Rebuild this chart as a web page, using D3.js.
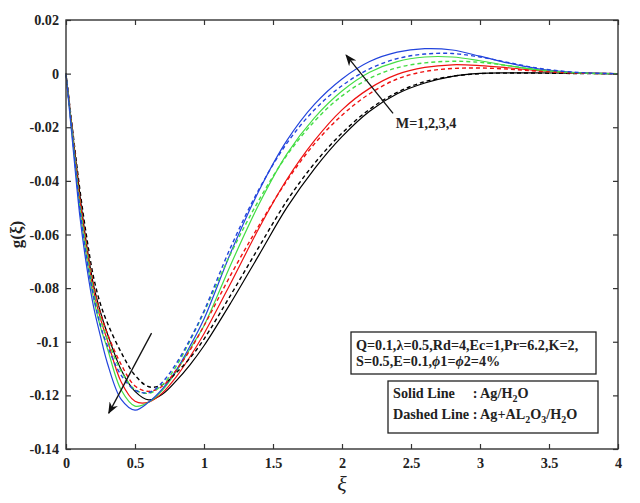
<!DOCTYPE html>
<html>
<head>
<meta charset="utf-8">
<script src="https://cdn.jsdelivr.net/npm/d3@7"></script>
<style>
  body { margin: 0; background: #fff; }
  text { font-family: "Liberation Serif", "DejaVu Serif", serif; fill: #222; }
</style>
</head>
<body>
<svg id="chart"></svg>
<script>
// xi grid shared by all curves
const xiValues = [0, 0.05, 0.1, 0.15, 0.2, 0.25, 0.3, 0.4, 0.5, 0.6, 0.7, 0.8, 0.9, 1.0,
  1.2, 1.4, 1.6, 1.8, 2.0, 2.2, 2.4, 2.6, 2.8, 3.0, 3.2, 3.4, 3.6, 3.8, 4.0];

// solid lines: Ag/H2O
const agM1 = [0, -0.023, -0.045, -0.064, -0.079, -0.089, -0.097, -0.1105, -0.1185, -0.1217, -0.1195, -0.1145, -0.1085, -0.1015,
  -0.085, -0.0675, -0.050, -0.0355, -0.0235, -0.014, -0.0075, -0.0035, -0.001, 0.0001, 0.0003, 0.0003, 0.0002, 0.0001, 0];
const agM2 = [0, -0.024, -0.047, -0.066, -0.081, -0.0915, -0.0995, -0.115, -0.1222, -0.1225, -0.119, -0.113, -0.1055, -0.097,
  -0.0775, -0.0575, -0.0395, -0.025, -0.0135, -0.0055, -0.0003, 0.0023, 0.0033, 0.003, 0.0022, 0.0012, 0.0005, 0.0001, 0];
const agM3 = [0, -0.025, -0.05, -0.069, -0.084, -0.0945, -0.1025, -0.118, -0.124, -0.1225, -0.118, -0.111, -0.1025, -0.094,
  -0.0705, -0.0485, -0.030, -0.0165, -0.0065, 0.0005, 0.0045, 0.0062, 0.0062, 0.0048, 0.003, 0.0015, 0.0006, 0.0001, 0];
const agM4 = [0, -0.027, -0.053, -0.072, -0.087, -0.098, -0.108, -0.1215, -0.1255, -0.1225, -0.1175, -0.1105, -0.1015, -0.0915,
  -0.066, -0.0435, -0.025, -0.0115, -0.002, 0.0045, 0.008, 0.0093, 0.0088, 0.0065, 0.004, 0.002, 0.0008, 0.0002, 0];

// dashed lines: Ag+Al2O3/H2O
const hybM1 = [0, -0.022, -0.043, -0.061, -0.076, -0.086, -0.093, -0.104, -0.1125, -0.1168, -0.116, -0.1115, -0.106, -0.099,
  -0.082, -0.0645, -0.0475, -0.0335, -0.0222, -0.0133, -0.007, -0.003, -0.001, 0, 0.0002, 0.0002, 0.0001, 0, 0];
const hybM2 = [0, -0.023, -0.046, -0.064, -0.079, -0.0895, -0.097, -0.1085, -0.1165, -0.1185, -0.1165, -0.1105, -0.103, -0.094,
  -0.0745, -0.0565, -0.040, -0.0262, -0.0155, -0.0075, -0.002, 0.0008, 0.0019, 0.0021, 0.0017, 0.001, 0.0004, 0.0001, 0];
const hybM3 = [0, -0.024, -0.048, -0.066, -0.081, -0.0915, -0.099, -0.111, -0.1178, -0.1192, -0.116, -0.109, -0.0995, -0.089,
  -0.0665, -0.047, -0.0305, -0.0178, -0.0083, -0.0018, 0.0022, 0.004, 0.0046, 0.0042, 0.003, 0.0016, 0.0006, 0.0001, 0];
const hybM4 = [0, -0.025, -0.05, -0.069, -0.083, -0.094, -0.1015, -0.1125, -0.118, -0.119, -0.115, -0.108, -0.099, -0.0885,
  -0.064, -0.043, -0.026, -0.0135, -0.0045, 0.0018, 0.0056, 0.0073, 0.0075, 0.0062, 0.0042, 0.0022, 0.0009, 0.0002, 0];

const xTicks = [0, 0.5, 1, 1.5, 2, 2.5, 3, 3.5, 4];
const yTicks = [0.02, 0, -0.02, -0.04, -0.06, -0.08, -0.1, -0.12, -0.14];

const width = 640, height = 503;
const margin = { top: 20, right: 22, bottom: 54, left: 66 };
const labelSize = 14.2;

const svg = d3.select("#chart").attr("width", width).attr("height", height);

const x = d3.scaleLinear().domain([0, 4]).range([margin.left, width - margin.right]);
const y = d3.scaleLinear().domain([-0.14, 0.02]).range([height - margin.bottom, margin.top]);

const curves = [
  { values: agM1, color: "#000000", dashed: false },
  { values: agM2, color: "#ee1111", dashed: false },
  { values: agM3, color: "#44dd44", dashed: false },
  { values: agM4, color: "#2244dd", dashed: false },
  { values: hybM1, color: "#000000", dashed: true },
  { values: hybM2, color: "#ee1111", dashed: true },
  { values: hybM3, color: "#44dd44", dashed: true },
  { values: hybM4, color: "#2244dd", dashed: true }
];

const line = d3.line()
  .x((d, i) => x(xiValues[i]))
  .y(d => y(d))
  .curve(d3.curveCatmullRom.alpha(0.5));

svg.append("g").selectAll("path").data(curves).enter().append("path")
  .attr("d", d => line(d.values))
  .attr("fill", "none")
  .attr("stroke", d => d.color)
  .attr("stroke-width", d => d.dashed ? 1.4 : 1.2)
  .attr("stroke-dasharray", d => d.dashed ? "4,3" : null);

// axes with inward ticks on all four sides
const fmt = d => d === 0 ? "0" : String(d);
const axisStyle = g => {
  g.select(".domain").remove();
  g.selectAll(".tick line").attr("stroke", "#333").attr("stroke-width", 1.2);
  g.selectAll(".tick text").attr("font-family", "Liberation Serif, serif")
    .attr("font-weight", "bold").attr("font-size", labelSize).attr("fill", "#222");
};

svg.append("g").attr("transform", `translate(0,${height - margin.bottom})`)
  .call(d3.axisBottom(x).tickValues(xTicks).tickFormat(fmt).tickSize(-5).tickPadding(9))
  .call(axisStyle);
svg.append("g").attr("transform", `translate(0,${margin.top})`)
  .call(d3.axisTop(x).tickValues(xTicks).tickFormat("").tickSize(-5))
  .call(axisStyle);
svg.append("g").attr("transform", `translate(${margin.left},0)`)
  .call(d3.axisLeft(y).tickValues(yTicks).tickFormat(fmt).tickSize(-5).tickPadding(7))
  .call(axisStyle);
svg.append("g").attr("transform", `translate(${width - margin.right},0)`)
  .call(d3.axisRight(y).tickValues(yTicks).tickFormat("").tickSize(-5))
  .call(axisStyle);

svg.append("rect")
  .attr("x", margin.left).attr("y", margin.top)
  .attr("width", width - margin.left - margin.right)
  .attr("height", height - margin.bottom - margin.top)
  .attr("fill", "none").attr("stroke", "#333").attr("stroke-width", 1.4);

// axis titles
svg.append("text")
  .attr("x", (margin.left + width - margin.right) / 2).attr("y", 491)
  .attr("text-anchor", "middle").attr("font-size", 22).attr("font-style", "italic")
  .text("ξ");
svg.append("text")
  .attr("transform", `translate(22,${(margin.top + height - margin.bottom) / 2}) rotate(-90)`)
  .attr("text-anchor", "middle").attr("font-size", 17).attr("font-weight", "bold")
  .text("g(ξ)");

// arrows
svg.append("defs").append("marker")
  .attr("id", "head").attr("viewBox", "0 0 10 10").attr("refX", 9).attr("refY", 5)
  .attr("markerWidth", 9).attr("markerHeight", 9).attr("orient", "auto")
  .append("path").attr("d", "M0,1 L10,5 L0,9 L3,5 Z").attr("fill", "#111");

const arrows = [
  { from: [2.37, -0.0148], to: [2.03, 0.0069] },
  { from: [0.62, -0.0968], to: [0.31, -0.1266] }
];
svg.append("g").selectAll("line").data(arrows).enter().append("line")
  .attr("x1", d => x(d.from[0])).attr("y1", d => y(d.from[1]))
  .attr("x2", d => x(d.to[0])).attr("y2", d => y(d.to[1]))
  .attr("stroke", "#111").attr("stroke-width", 1.3)
  .attr("marker-end", "url(#head)");

svg.append("text").attr("x", x(2.39)).attr("y", y(-0.0203))
  .attr("font-size", labelSize).attr("font-weight", "bold").text("M=1,2,3,4");

// parameter box
const box = svg.append("g").attr("font-weight", "bold").attr("font-size", labelSize);
box.append("rect").attr("x", 351).attr("y", 332).attr("width", 245).attr("height", 42)
  .attr("fill", "#fff").attr("stroke", "#222").attr("stroke-width", 1.3);
box.append("text").attr("x", 356).attr("y", 350)
  .html('Q=0.1,<tspan>λ</tspan>=0.5,Rd=4,Ec=1,Pr=6.2,K=2,');
box.append("text").attr("x", 356).attr("y", 366)
  .html('S=0.5,E=0.1,<tspan font-style="italic">ϕ</tspan>1=<tspan font-style="italic">ϕ</tspan>2=4%');

// legend box
const leg = svg.append("g").attr("font-weight", "bold").attr("font-size", labelSize);
leg.append("rect").attr("x", 388).attr("y", 381).attr("width", 210).attr("height", 52)
  .attr("fill", "#fff").attr("stroke", "#222").attr("stroke-width", 1.3);
leg.append("text").attr("x", 393).attr("y", 398).text("Solid Line");
const dashed = leg.append("text").attr("x", 393).attr("y", 419);
dashed.append("tspan").attr("class", "lead").text("Dashed Line ");
dashed.append("tspan")
  .html(': Ag+AL</tspan><tspan dy="4" font-size="10">2</tspan><tspan dy="-4">O</tspan><tspan dy="4" font-size="10">3</tspan><tspan dy="-4">/H</tspan><tspan dy="4" font-size="10">2</tspan><tspan dy="-4">O');
const colonX = 393 + dashed.select(".lead").node().getComputedTextLength();
leg.append("text").attr("x", colonX).attr("y", 398)
  .html(': Ag/H<tspan dy="4" font-size="10">2</tspan><tspan dy="-4">O</tspan>');
</script>
</body>
</html>
